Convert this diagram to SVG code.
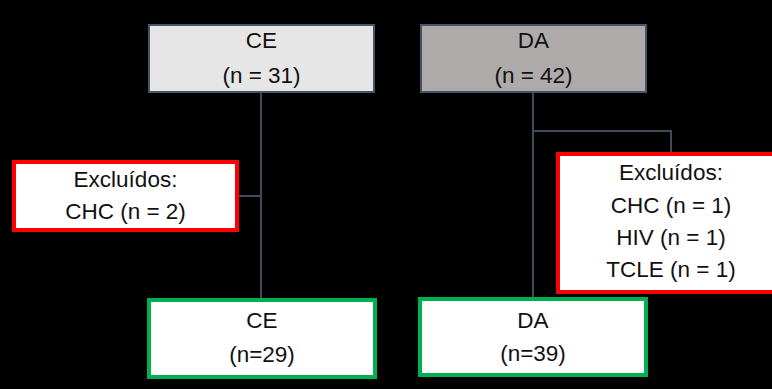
<svg xmlns="http://www.w3.org/2000/svg" width="772" height="389" viewBox="0 0 772 389">
<style>
text{font-family:"Liberation Sans",Arial,sans-serif;font-size:22.5px;fill:#111;text-anchor:middle}
.top{stroke:#44546a;stroke-width:2}
.exc{fill:#fff;stroke:#ff0000;stroke-width:4}
.res{fill:#fff;stroke:#00b050;stroke-width:4}
.conn{stroke:#3f4a5c;stroke-width:2;fill:none}
</style>
<rect x="0" y="0" width="772" height="389" fill="#000"/>
<g id="connectors">
<path class="conn" d="M261 92V299M239 196H261"/>
<path class="conn" d="M533 92V298M533 131H671V153"/>
</g>
<g id="ce-top">
<rect class="top" x="149" y="25" width="225" height="67" fill="#e6e6e6"/>
<text x="261.5" y="48">CE</text>
<text x="261.5" y="83">(n = 31)</text>
</g>
<g id="da-top">
<rect class="top" x="421" y="25" width="225" height="67" fill="#aeaaaa"/>
<text x="533.5" y="48">DA</text>
<text x="533.5" y="83">(n = 42)</text>
</g>
<g id="ce-excl">
<rect class="exc" x="14" y="162" width="223" height="68"/>
<text x="125.5" y="187">Excluídos:</text>
<text x="125.5" y="219">CHC (n = 2)</text>
</g>
<g id="da-excl">
<rect class="exc" x="558" y="154" width="226" height="138"/>
<text x="671" y="180">Excluídos:</text>
<text x="671" y="213">CHC (n = 1)</text>
<text x="671" y="245">HIV (n = 1)</text>
<text x="671" y="277">TCLE (n = 1)</text>
</g>
<g id="ce-final">
<rect class="res" x="149" y="300" width="226" height="77"/>
<text x="262" y="328">CE</text>
<text x="262" y="362">(n=29)</text>
</g>
<g id="da-final">
<rect class="res" x="420" y="299" width="226" height="76"/>
<text x="533" y="328">DA</text>
<text x="533" y="361">(n=39)</text>
</g>
</svg>
